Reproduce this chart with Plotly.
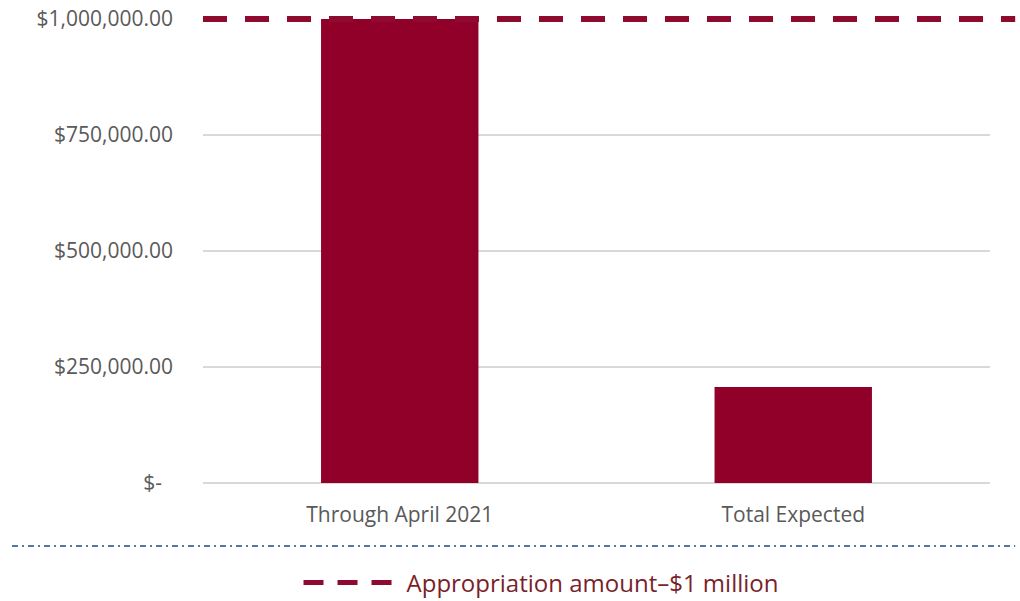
import plotly.graph_objects as go

# Spending categories and amounts (USD)
categories = ["Through April 2021", "Total Expected"]
amounts = [1000000, 207000]

# Appropriation reference level
appropriation = 1000000
appropriation_label = "Appropriation amount\u2013$1 million"

# Y axis ticks in accounting format
tick_values = [0, 250000, 500000, 750000, 1000000]
tick_labels = ["$-\u00a0\u00a0", "$250,000.00", "$500,000.00", "$750,000.00", "$1,000,000.00"]

y_max = 1000000

bar_color = "#900028"
line_color = "#8E0A2E"
text_gray = "#595959"
font_family = "Open Sans, Liberation Sans, sans-serif"

fig = go.Figure()

fig.add_trace(go.Bar(
    x=categories,
    y=amounts,
    marker=dict(color=bar_color, line=dict(width=0)),
    showlegend=False,
    hoverinfo="skip",
))

# Legend entry for the appropriation line
fig.add_trace(go.Scatter(
    x=[None], y=[None],
    mode="lines",
    name=appropriation_label,
    line=dict(color=line_color, width=5, dash="20px,14px"),
    showlegend=True,
))

# Dashed appropriation line running past the right edge of the plot
fig.add_shape(
    type="line", xref="paper", yref="paper",
    x0=0, x1=1.032,
    y0=appropriation / y_max, y1=appropriation / y_max,
    line=dict(color=line_color, width=6, dash="24px,18px"),
    layer="above",
)

# Dash-dot separator above the legend
fig.add_shape(
    type="line", xref="paper", yref="paper",
    x0=-0.2427, x1=1.032, y0=-0.1358, y1=-0.1358,
    line=dict(color="#1F4E79", width=1.5, dash="6px,4px,2px,4px"),
)

fig.update_layout(
    width=1020, height=601,
    margin=dict(l=203, r=30, t=19, b=118, autoexpand=False),
    paper_bgcolor="white",
    plot_bgcolor="white",
    bargap=0.6,
    font=dict(family=font_family, size=21, color=text_gray),
    legend=dict(
        orientation="h",
        x=0.4295, xanchor="center",
        y=-0.2155, yanchor="middle",
        itemwidth=98,
        font=dict(family=font_family, size=24, color="#7A1F2B"),
        bgcolor="rgba(0,0,0,0)",
    ),
    xaxis=dict(
        automargin=False,
        showgrid=False,
        showline=False,
        ticks="",
        tickfont=dict(size=21, color=text_gray),
        ticklabelstandoff=17,
    ),
    yaxis=dict(
        automargin=False,
        range=[0, y_max],
        tickvals=tick_values,
        ticktext=tick_labels,
        showgrid=True,
        gridcolor="#D9D9D9",
        gridwidth=1.5,
        zeroline=True,
        zerolinecolor="#D9D9D9",
        zerolinewidth=1.5,
        showline=False,
        ticks="",
        tickfont=dict(size=21, color=text_gray),
        ticklabelstandoff=29,
    ),
)

fig.write_html("out.html")
